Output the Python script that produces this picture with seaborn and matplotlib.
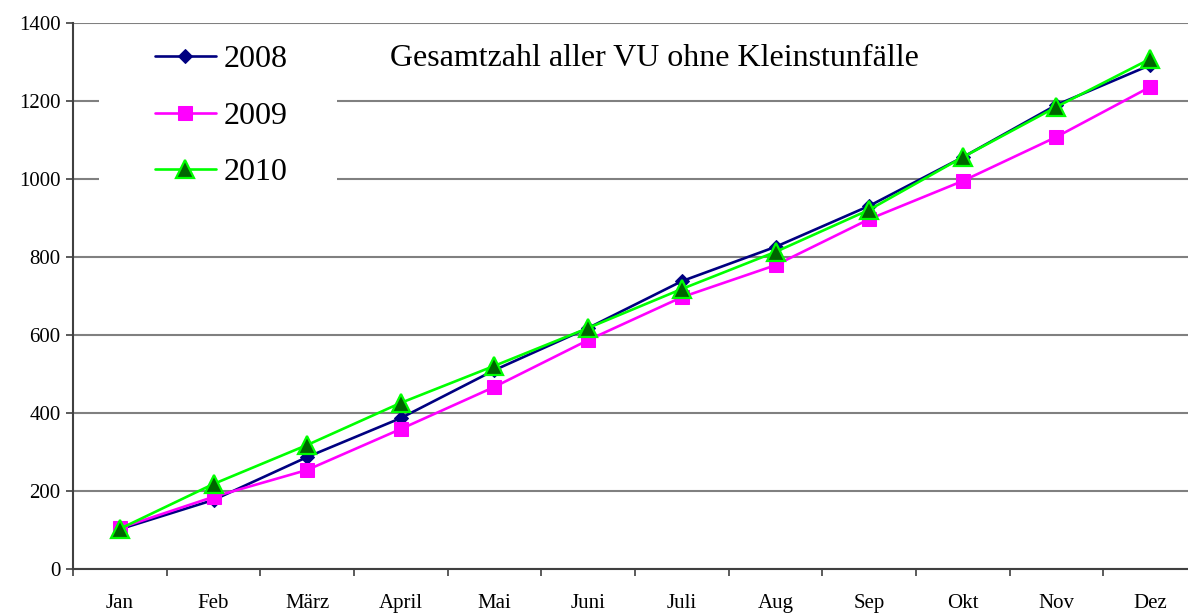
import matplotlib
matplotlib.use("Agg")
import matplotlib.pyplot as plt
from matplotlib.patches import Rectangle
import seaborn as sns
import pandas as pd

months = ["Jan", "Feb", "März", "April", "Mai", "Juni", "Juli", "Aug", "Sep", "Okt", "Nov", "Dez"]
v2008 = [102, 177, 287, 387, 510, 618, 738, 826, 931, 1056, 1190, 1292]
v2009 = [105, 185, 254, 359, 467, 587, 697, 779, 897, 995, 1108, 1236]
v2010 = [103, 218, 318, 426, 521, 618, 718, 813, 921, 1056, 1185, 1308]
years = ["2008", "2009", "2010"]
title = "Gesamtzahl aller VU ohne Kleinstunfälle"
yticks = [0, 200, 400, 600, 800, 1000, 1200, 1400]

sns.set_theme(style="white")
plt.rcParams['font.family'] = ['Liberation Serif', 'DejaVu Serif']
plt.rcParams['text.color'] = 'black'
plt.rcParams['xtick.color'] = 'black'
plt.rcParams['ytick.color'] = 'black'

rows = []
for yr, vals in zip(years, [v2008, v2009, v2010]):
    for i, (m, v) in enumerate(zip(months, vals)):
        rows.append({"idx": i, "Monat": m, "Wert": v, "Jahr": yr})
df = pd.DataFrame(rows)

fig = plt.figure(figsize=(11.88, 6.14), dpi=100)
W, H = 1188, 614
ax = fig.add_axes([73 / W, (H - 569) / H, 1124 / W, 546 / H])

colors = {"2008": "#000080", "2009": "#FF00FF", "2010": "#00FF00"}
markers = {"2008": "D", "2009": "s", "2010": "^"}
sns.lineplot(data=df, x="idx", y="Wert", hue="Jahr", style="Jahr", palette=colors,
             markers=markers, dashes=False, linewidth=1.9, ax=ax, legend=False, zorder=3)

msize = {"2008": 7.5, "2009": 10, "2010": 12.5}
for line, yr in zip(ax.lines, years):
    line.set_markersize(msize[yr])
    if yr == "2010":
        line.set_markerfacecolor("#006400")
        line.set_markeredgecolor("#00FF00")
        line.set_markeredgewidth(1.6)
    else:
        line.set_markerfacecolor(colors[yr])
        line.set_markeredgecolor(colors[yr])

ax.set_xlim(-0.5, 11.5)
ax.set_ylim(0, 1400)
ax.set_yticks(yticks)
ax.set_yticklabels([str(t) for t in yticks], fontsize=15)
ax.set_xticks(range(12))
ax.set_xticklabels(months, fontsize=15)
ax.set_xticks([i - 0.5 for i in range(13)], minor=True)
ax.tick_params(axis="x", which="major", length=0, pad=18, labelcolor="black")
ax.tick_params(axis="x", which="minor", length=5, width=1.2, color="#404040", direction="out", bottom=True)
ax.tick_params(axis="y", length=5, width=1.2, color="#404040", direction="out", left=True, pad=4,
               labelcolor="black")
ax.set_xlabel("")
ax.set_ylabel("")
ax.yaxis.grid(True, color="#808080", linewidth=1.5, zorder=0)
ax.set_axisbelow(True)
for s in ["top", "right"]:
    ax.spines[s].set_visible(False)
for s in ["left", "bottom"]:
    ax.spines[s].set_color("#404040")
    ax.spines[s].set_linewidth(1.5)

# white legend area masking gridlines
ax.add_patch(Rectangle((99 / W, 1 - 205 / H), (337 - 99) / W, 175 / H, transform=fig.transFigure,
                       facecolor="white", edgecolor="none", zorder=1))

handles = ax.lines[:3]
leg = ax.legend(handles, years, loc="upper left", bbox_to_anchor=(155 / W, 1 - 45 / H),
                bbox_transform=fig.transFigure, fontsize=23, frameon=False,
                handlelength=1.9, handletextpad=0.25, labelspacing=0.85, borderpad=0,
                borderaxespad=0)
leg.set_zorder(5)

fig.text(390 / W, 1 - 58 / H, title, fontsize=23, ha="left", va="center", color="black")

fig.savefig("out.png", dpi=100)
